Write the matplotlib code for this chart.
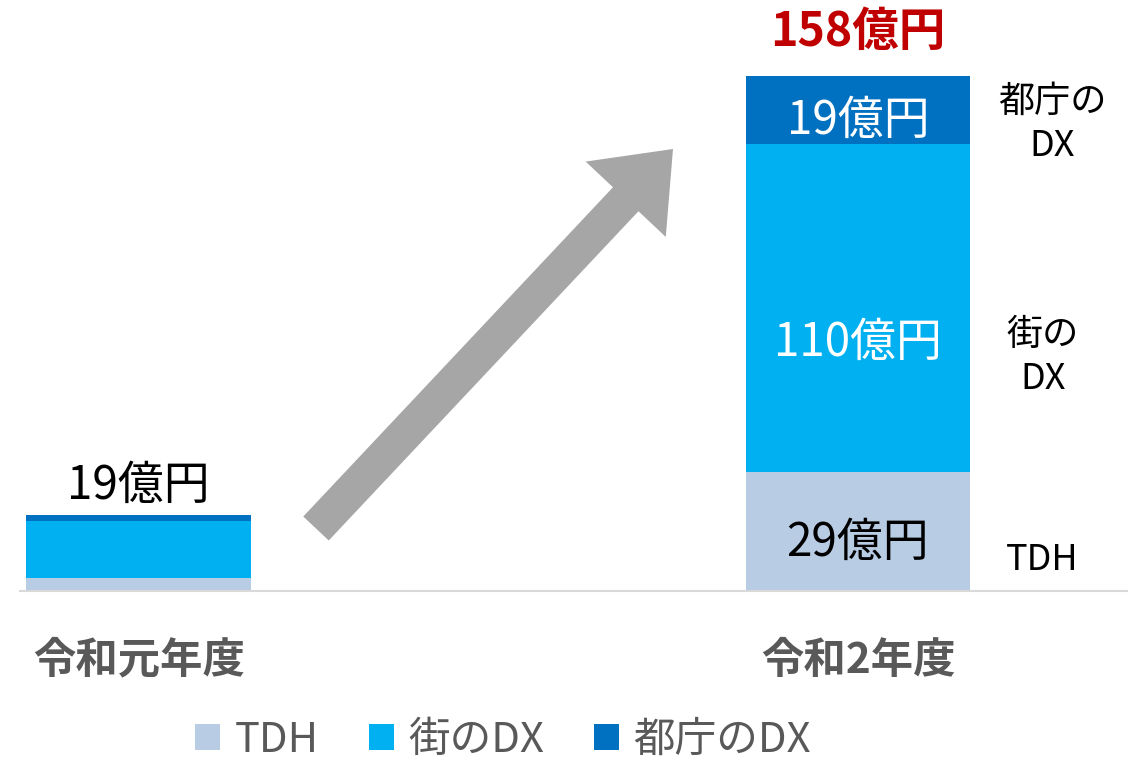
import matplotlib
matplotlib.use("Agg")
import matplotlib.pyplot as plt
from matplotlib.patches import Patch, FancyArrow

plt.rcParams['font.family'] = ['Noto Sans CJK JP', 'DejaVu Sans']

categories = ['令和元年度', '令和2年度']
series_names = ['TDH', '街のDX', '都庁のDX']
tdh = [4.0, 36.5]
town_dx = [17.5, 100.5]
gov_dx = [1.9, 21.0]
colors = ['#B8CCE4', '#00B0F0', '#0070C0']
seg_labels_right = ['29億円', '110億円', '19億円']
left_total_label = '19億円'
right_total_label = '158億円'
side_labels = ['TDH', '街の\nDX', '都庁の\nDX']

W, H = 1143, 761
fig = plt.figure(figsize=(W / 100, H / 100), dpi=100)
px_per_unit = 515 / 158.0
ax = fig.add_axes([20 / W, (H - 591) / H, 1107 / W, 180 * px_per_unit / H])


def py(p):
    """pixel row (from top) -> data y"""
    return (591 - p) / px_per_unit


def px(p):
    """pixel column -> data x"""
    return (p - 138.5) / 719.5


x = [0, 1]
bw = 0.3127
bottom = [0.0, 0.0]
for vals, c in zip([tdh, town_dx, gov_dx], colors):
    ax.bar(x, vals, bw, bottom=bottom, color=c, edgecolor='none', zorder=2)
    bottom = [b + v for b, v in zip(bottom, vals)]

ax.set_xlim(-0.165, 1.374)
ax.set_ylim(0, 180)
for s in ['top', 'right', 'left']:
    ax.spines[s].set_visible(False)
ax.spines['bottom'].set_color('#D9D9D9')
ax.spines['bottom'].set_linewidth(1.5)
ax.set_yticks([])
ax.set_xticks(x)
ax.set_xticklabels(categories, fontsize=30.5, fontweight='bold', color='#595959')
ax.tick_params(axis='x', length=0, pad=35)

lab_fs = 33
# labels inside right bar
ax.text(1, py(543), seg_labels_right[0], ha='center', va='center', fontsize=lab_fs, color='#000000')
ax.text(1, py(343), seg_labels_right[1], ha='center', va='center', fontsize=lab_fs, color='white')
ax.text(1, py(121), seg_labels_right[2], ha='center', va='center', fontsize=lab_fs, color='white')
# totals
ax.text(0, py(486), left_total_label, ha='center', va='center', fontsize=lab_fs, color='#000000')
ax.text(px(858), py(32), right_total_label, ha='center', va='center', fontsize=33.5,
        fontweight='bold', color='#C00000')
# side labels
ax.text(px(1042), py(560), side_labels[0], ha='center', va='center',
        fontsize=26, color='#000000')
ax.text(px(1043), py(357), side_labels[1], ha='center', va='center',
        fontsize=26, color='#000000', linespacing=1.3)
ax.text(px(1052), py(124), side_labels[2], ha='center',
        va='center', fontsize=26, color='#000000', linespacing=1.3)

# arrow overlay in pixel coords
ov = fig.add_axes([0, 0, 1, 1], facecolor='none')
ov.set_xlim(0, W)
ov.set_ylim(H, 0)
ov.axis('off')
tail = (316, 528.5)
tip = (673, 149)
ov.add_patch(FancyArrow(tail[0], tail[1], tip[0] - tail[0], tip[1] - tail[1], width=35,
                        head_width=110, head_length=69, length_includes_head=True,
                        color='#A6A6A6', lw=0))

handles = [Patch(facecolor=c, edgecolor='none') for c in colors]
leg = fig.legend(handles, series_names, loc='center', bbox_to_anchor=(503 / W, 1 - 740 / H),
                 ncol=3, frameon=False, fontsize=30, handlelength=0.6, handleheight=0.6,
                 handletextpad=0.35, columnspacing=1.2, borderpad=0, borderaxespad=0)
for t in leg.get_texts():
    t.set_color('#595959')

fig.savefig('out.png', dpi=100)
